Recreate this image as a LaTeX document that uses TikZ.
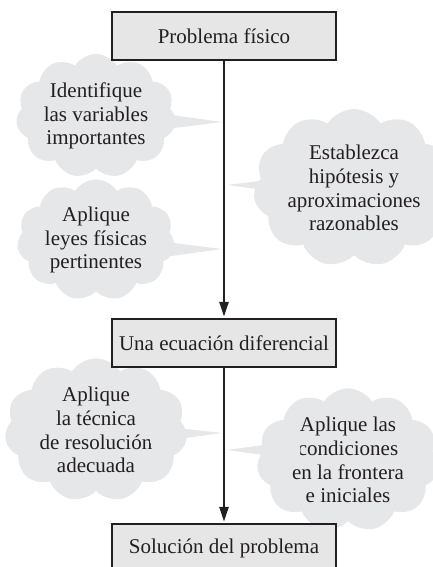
\documentclass[tikz,border=0pt]{standalone}
\usepackage{fontspec}
\setmainfont{Liberation Serif}
\usetikzlibrary{shapes.symbols,arrows.meta}
\definecolor{cloudgray}{HTML}{E6E7E8}
\definecolor{boxgray}{HTML}{E6E6E6}
\definecolor{ink}{HTML}{231F20}
\tikzset{
  stepbox/.style={draw=ink, line width=1.4pt, fill=boxgray, minimum width=224pt, minimum height=48pt, inner sep=0pt, text=ink, font=\fontsize{21}{23.8}\selectfont},
  thought/.style={cloud, cloud puffs=11, cloud puff arc=115, aspect=1.4, fill=cloudgray, inner sep=0pt, align=center, text=ink, font=\fontsize{21}{23.8}\selectfont},
  wedge/.style={fill=cloudgray},
  flow/.style={line width=2.6pt, draw=ink, shorten >=1.5pt, -{Triangle[length=15pt,width=9pt]}}
}
\begin{document}
\begin{tikzpicture}[x=1pt,y=-1pt]
\useasboundingbox (0,0) rectangle (433,567);
% clouds
\node[thought, minimum width=160pt, minimum height=112pt] (c1) at (96,116) {Identifique\\las variables\\importantes};
\node[thought, minimum width=150pt, minimum height=115pt] (c2) at (354,188) {Establezca\\hipótesis y\\aproximaciones\\razonables};
\node[thought, minimum width=158pt, minimum height=110pt] (c3) at (96,240) {Aplique\\leyes físicas\\pertinentes};
\node[thought, minimum width=158pt, minimum height=122pt] (c4) at (96,430) {Aplique\\la técnica\\de resolución\\adecuada};
\node[thought, minimum width=146pt, minimum height=135pt] (c5) at (348,460) {Aplique las\\condiciones\\en la frontera\\e iniciales};
% tips on the main line
\coordinate (t1) at (222,122);
\coordinate (t2) at (227,185);
\coordinate (t3) at (222,249);
\coordinate (t4) at (222,433);
\coordinate (t5) at (227,450);
\fill[wedge] (150,112) -- (t1) -- (150,131) -- cycle;
\fill[wedge] (300,176) -- (t2) -- (300,195) -- cycle;
\fill[wedge] (150,240) -- (t3) -- (150,259) -- cycle;
\fill[wedge] (150,425) -- (t4) -- (150,443) -- cycle;
\fill[wedge] (300,440) -- (t5) -- (300,460) -- cycle;
% boxes
\node[stepbox] (b1) at (224,36) {Problema físico};
\node[stepbox] (b2) at (224,343) {Una ecuación diferencial};
\node[stepbox] (b3) at (224,548) {Solución del problema};
\draw[flow] (b1) -- (b2);
\draw[flow] (b2) -- (b3);
\end{tikzpicture}
\end{document}
